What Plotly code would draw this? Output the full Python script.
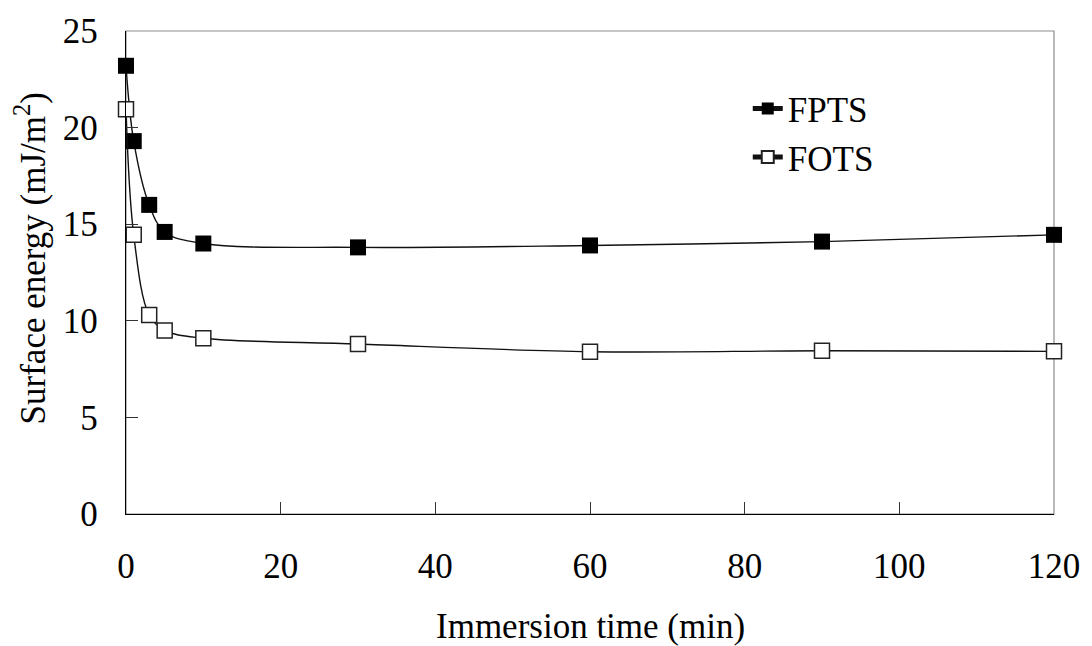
import plotly.graph_objects as go

# Immersion time (min) and surface energy (mJ/m^2) for the two silane treatments
time_min = [0, 1, 3, 5, 10, 30, 60, 90, 120]
fpts_energy = [23.2, 19.3, 16.0, 14.6, 14.0, 13.8, 13.9, 14.1, 14.45]
fots_energy = [20.95, 14.45, 10.3, 9.5, 9.1, 8.8, 8.4, 8.45, 8.42]

x_ticks = [0, 20, 40, 60, 80, 100, 120]
y_ticks = [0, 5, 10, 15, 20, 25]

FONT = "'Liberation Serif', 'Times New Roman', Times, serif"
FS = 35

fig = go.Figure()

fig.add_trace(go.Scatter(
    x=time_min, y=fpts_energy, name="FPTS", mode="lines+markers",
    line=dict(color="#111111", width=1.4, shape="spline", smoothing=1.0),
    marker=dict(symbol="square", size=16, color="black",
                line=dict(color="black", width=0)),
    cliponaxis=False, legendgroup="a",
))
fig.add_trace(go.Scatter(
    x=time_min, y=fots_energy, name="FOTS", mode="lines+markers",
    line=dict(color="#111111", width=1.4, shape="spline", smoothing=1.0),
    marker=dict(symbol="square", size=15, color="white",
                line=dict(color="#222222", width=1.5)),
    cliponaxis=False, legendgroup="b",
))

axis_common = dict(
    showgrid=False, zeroline=False, showline=True, linecolor="black",
    linewidth=1.4, ticks="inside", ticklen=12, tickwidth=1.2,
    tickcolor="#333333", tickfont=dict(family=FONT, size=FS, color="black"),
)

fig.update_xaxes(range=[0, 120], tickvals=x_ticks, ticklabelstandoff=21,
                 **axis_common)
fig.update_yaxes(range=[0, 25], tickvals=y_ticks, ticklabelstandoff=20,
                 **axis_common)

# light grey frame around the plotting area
fig.add_shape(type="rect", xref="paper", yref="paper", x0=0, x1=1, y0=0, y1=1,
              line=dict(color="#8c8c8c", width=1.2), layer="below")

fig.add_annotation(text="Immersion time (min)", xref="paper", yref="paper",
                   x=0.5, y=-0.232, xanchor="center", yanchor="middle",
                   showarrow=False, font=dict(family=FONT, size=FS, color="black"))
fig.add_annotation(text="Surface energy (mJ/m<sup>2</sup>)", xref="paper",
                   yref="paper", x=-0.103, y=0.53, xanchor="center",
                   yanchor="middle", textangle=-90, showarrow=False,
                   font=dict(family=FONT, size=FS, color="black"))

fig.update_layout(
    width=1092, height=646,
    margin=dict(l=126, r=30, t=27, b=132),
    paper_bgcolor="white", plot_bgcolor="white",
    font=dict(family=FONT, size=FS, color="black"),
    showlegend=True,
    legend=dict(x=0.67, y=0.90, xanchor="left", yanchor="top",
                bgcolor="rgba(0,0,0,0)", borderwidth=0,
                font=dict(family=FONT, size=FS, color="black"),
                tracegroupgap=0, itemsizing="constant"),
)

fig.write_html("out.html")
